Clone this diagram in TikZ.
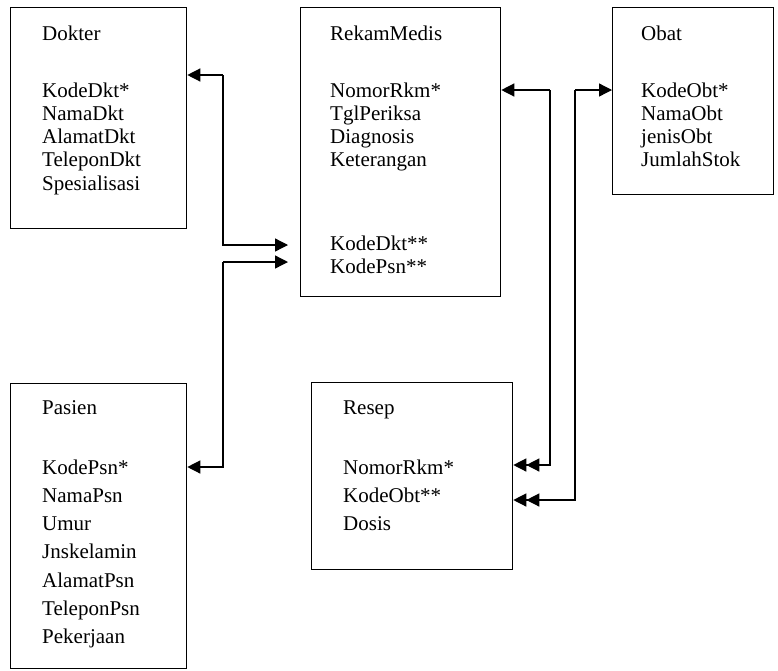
\documentclass[tikz,border=0pt]{standalone}
\usepackage{fontspec}
\setmainfont{Liberation Serif}
\usetikzlibrary{arrows.meta}
\newcommand\attrrows[1]{\vtop{\halign{##\hfil\cr#1\crcr}}}
\tikzset{
  entbox/.style={draw, line width=1.3pt, inner sep=0pt},
  ttl/.style={anchor=base west, inner sep=0pt, font=\fontsize{21}{23.3}\selectfont},
  attrs/.style={anchor=base west, inner sep=0pt, font=\fontsize{21}{23.3}\selectfont},
  attrswide/.style={anchor=base west, inner sep=0pt, font=\fontsize{21}{28.3}\selectfont},
  link/.style={line width=1.3pt},
  tipA/.style={-{Triangle[length=13pt,width=13pt]}},
  tipAA/.style={-{Triangle[length=13pt,width=13pt]Triangle[length=13pt,width=13pt]}},
}
\begin{document}
\begin{tikzpicture}[x=1pt,y=-1pt]
\useasboundingbox (0,0) rectangle (778,670);
% boxes
\node[entbox, minimum width=176pt, minimum height=221pt, anchor=north west] (dok) at (10,7) {};
\node[entbox, minimum width=200pt, minimum height=289pt, anchor=north west] (rm) at (300,7) {};
\node[entbox, minimum width=161pt, minimum height=187pt, anchor=north west] (obt) at (612,7) {};
\node[entbox, minimum width=176pt, minimum height=285pt, anchor=north west] (psn) at (10,383) {};
\node[entbox, minimum width=201pt, minimum height=187pt, anchor=north west] (rsp) at (311,382) {};
% texts
\node[ttl] (tdok) at (42,40) {Dokter};
\node[attrs] (adok) at (42,97) {\attrrows{KodeDkt*\cr NamaDkt\cr AlamatDkt\cr TeleponDkt\cr Spesialisasi}};
\node[ttl] (trm) at (330,40) {RekamMedis};
\node[attrs] (arm) at (330,97) {\attrrows{NomorRkm*\cr TglPeriksa\cr Diagnosis\cr Keterangan}};
\node[attrs] (arm2) at (330,250) {\attrrows{KodeDkt**\cr KodePsn**}};
\node[ttl] (tobt) at (641,40) {Obat};
\node[attrs] (aobt) at (641,97) {\attrrows{KodeObt*\cr NamaObt\cr jenisObt\cr JumlahStok}};
\node[ttl] (tpsn) at (42,414) {Pasien};
\node[attrswide] (apsn) at (42,474) {\attrrows{KodePsn*\cr NamaPsn\cr Umur\cr Jnskelamin\cr AlamatPsn\cr TeleponPsn\cr Pekerjaan}};
\node[ttl] (trsp) at (343,414) {Resep};
\node[attrswide] (arsp) at (343,474) {\attrrows{NomorRkm*\cr KodeObt**\cr Dosis}};
% bend points
\coordinate (d1) at (223,75);
\coordinate (d2) at (223,245);
\coordinate (p1) at (223,262);
\coordinate (p2) at (223,467);
\coordinate (rmtip) at (288,0);
\coordinate (r1) at (550,90);
\coordinate (r2) at (550,465);
\coordinate (o1) at (575,90);
\coordinate (o2) at (575,500);
% connectors
\draw[link,tipA] (d1) -- (d1 -| dok.east);
\draw[link,tipA] (d1) -- (d2) -- (d2 -| rmtip);
\draw[link,tipA] (p1) -- (p1 -| rmtip);
\draw[link,tipA] (p1) -- (p2) -- (p2 -| psn.east);
\draw[link,tipA] (r1) -- (r1 -| rm.east);
\draw[link,tipAA] (r1) -- (r2) -- (r2 -| rsp.east);
\draw[link,tipA] (o1) -- (o1 -| obt.west);
\draw[link,tipAA] (o1) -- (o2) -- (o2 -| rsp.east);
\end{tikzpicture}
\end{document}
